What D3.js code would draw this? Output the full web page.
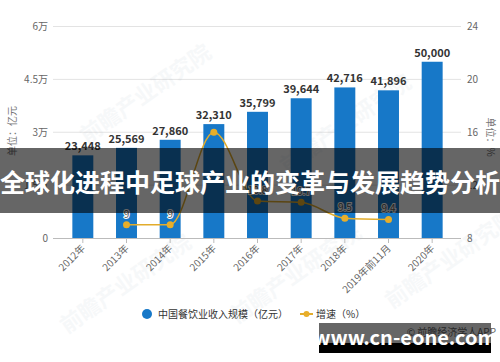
<!DOCTYPE html>
<html>
<head>
<meta charset="utf-8">
<script src="https://cdn.jsdelivr.net/npm/d3@7"></script>
<style>
  body { margin: 0; background: #fff; }
  svg { display: block; font-family: "Noto Sans CJK SC", "Noto Sans", sans-serif; }
</style>
</head>
<body>
<div id="chart"></div>
<script>
// data
const years = ["2012年", "2013年", "2014年", "2015年", "2016年", "2017年", "2018年", "2019年前11月", "2020年"];
const revenue = [23448, 25569, 27860, 32310, 35799, 39644, 42716, 41896, 50000];
const growth = [null, 9, 9, 16, 10.8, 10.7, 9.5, 9.4, null];
// the 2015 label is hidden behind the bar label in the picture
const growthLabels = [null, "9", "9", "", "10.8", "10.7", "9.5", "9.4", null];
const leftTicks = [0, 15000, 30000, 45000, 60000];
const leftTickLabels = ["0", "1.5万", "3万", "4.5万", "6万"];
const rightTicks = [8, 12, 16, 20, 24];

const width = 500, height = 362;
const plot = { left: 53, right: 461, top: 26.5, bottom: 238 };

const svg = d3.select("#chart").append("svg")
  .attr("width", width)
  .attr("height", height);

// scales
const x = d3.scaleBand()
  .domain(years)
  .range([61, 454])
  .paddingInner(0.52)
  .paddingOuter(0.26);

const yL = d3.scaleLinear().domain([0, 60000]).range([plot.bottom, plot.top]);
const yR = d3.scaleLinear().domain([8, 24]).range([plot.bottom, plot.top]);

// grid lines
svg.append("g")
  .selectAll("line")
  .data(leftTicks.slice(1))
  .enter()
  .append("line")
  .attr("x1", plot.left)
  .attr("x2", plot.right)
  .attr("y1", d => yL(d))
  .attr("y2", d => yL(d))
  .attr("stroke", "#e3e3e3")
  .attr("stroke-width", 1);

// left axis labels
svg.append("g")
  .selectAll("text")
  .data(leftTicks)
  .enter()
  .append("text")
  .attr("x", 48)
  .attr("y", d => yL(d))
  .attr("dy", "0.35em")
  .attr("text-anchor", "end")
  .attr("font-size", 10)
  .attr("fill", "#666")
  .text((d, i) => leftTickLabels[i]);

// right axis labels
svg.append("g")
  .selectAll("text")
  .data(rightTicks)
  .enter()
  .append("text")
  .attr("x", 467)
  .attr("y", d => yR(d))
  .attr("dy", "0.35em")
  .attr("text-anchor", "start")
  .attr("font-size", 10)
  .attr("fill", "#666")
  .text(d => d);

// axis titles
svg.append("text")
  .attr("transform", "translate(16,131) rotate(-90)")
  .attr("text-anchor", "middle")
  .attr("font-size", 10)
  .attr("fill", "#777")
  .text("单位：亿元");

svg.append("text")
  .attr("transform", "translate(487,137) rotate(90)")
  .attr("text-anchor", "middle")
  .attr("font-size", 10)
  .attr("fill", "#777")
  .text("单位：%");

// faint watermarks
[[150, 100], [350, 130], [300, 280], [130, 290], [455, 265]].forEach(p => {
  svg.append("text")
    .attr("transform", `translate(${p[0]},${p[1]}) rotate(-35)`)
    .attr("text-anchor", "middle")
    .attr("font-size", 22)
    .attr("font-weight", "bold")
    .attr("fill", "#7a8fa6")
    .attr("opacity", 0.06)
    .text("前瞻产业研究院");
});

// bars
svg.selectAll(".bar")
  .data(revenue)
  .enter()
  .append("rect")
  .attr("class", "bar")
  .attr("x", (d, i) => x(years[i]))
  .attr("y", d => yL(d))
  .attr("width", x.bandwidth())
  .attr("height", d => yL(0) - yL(d))
  .attr("fill", "#1778c8");

// bar labels
svg.selectAll(".barlabel")
  .data(revenue)
  .enter()
  .append("text")
  .attr("class", "barlabel")
  .attr("x", (d, i) => x(years[i]) + x.bandwidth() / 2)
  .attr("y", d => yL(d) - 5)
  .attr("text-anchor", "middle")
  .attr("font-size", 11)
  .attr("font-weight", "bold")
  .attr("fill", "#333")
  .text(d => d3.format(",")(d));

// x axis
const xAxis = svg.append("g");
xAxis.append("line")
  .attr("x1", plot.left)
  .attr("x2", plot.right)
  .attr("y1", plot.bottom + 0.5)
  .attr("y2", plot.bottom + 0.5)
  .attr("stroke", "#bbb");
xAxis.selectAll(".tick")
  .data(years)
  .enter()
  .append("line")
  .attr("x1", d => x(d) + x.bandwidth() / 2)
  .attr("x2", d => x(d) + x.bandwidth() / 2)
  .attr("y1", plot.bottom)
  .attr("y2", plot.bottom + 5)
  .attr("stroke", "#bbb");
xAxis.selectAll("text")
  .data(years)
  .enter()
  .append("text")
  .attr("transform", d => `translate(${x(d) + x.bandwidth() / 2 + 3},${plot.bottom + 11}) rotate(-45)`)
  .attr("text-anchor", "end")
  .attr("font-size", 10)
  .attr("fill", "#666")
  .text(d => d);

// growth line
const pts = growth.map((g, i) => ({ year: years[i], v: g, label: growthLabels[i] })).filter(d => d.v !== null);
const line = d3.line()
  .x(d => x(d.year) + x.bandwidth() / 2)
  .y(d => yR(d.v))
  .curve(d3.curveMonotoneX);

svg.append("path")
  .datum(pts)
  .attr("d", line)
  .attr("fill", "none")
  .attr("stroke", "#e2ac2c")
  .attr("stroke-width", 1.5);

svg.selectAll(".pt")
  .data(pts)
  .enter()
  .append("circle")
  .attr("class", "pt")
  .attr("cx", d => x(d.year) + x.bandwidth() / 2)
  .attr("cy", d => yR(d.v))
  .attr("r", 3.5)
  .attr("fill", "#e8ae2a");

svg.selectAll(".ptlabel")
  .data(pts.filter(d => d.label))
  .enter()
  .append("text")
  .attr("class", "ptlabel")
  .attr("x", d => x(d.year) + x.bandwidth() / 2)
  .attr("y", d => yR(d.v) - 7)
  .attr("text-anchor", "middle")
  .attr("font-size", 10)
  .attr("fill", "#555")
  .attr("stroke", "#fff")
  .attr("stroke-width", 2)
  .attr("paint-order", "stroke")
  .text(d => d.label);

// legend
const legend = svg.append("g").attr("font-size", 10).attr("fill", "#333");
legend.append("circle").attr("cx", 147).attr("cy", 314).attr("r", 5).attr("fill", "#1778c8");
legend.append("text").attr("x", 158).attr("y", 314).attr("dy", "0.35em").text("中国餐饮业收入规模（亿元）");
legend.append("line").attr("x1", 300).attr("x2", 313).attr("y1", 314).attr("y2", 314)
  .attr("stroke", "#e2ac2c").attr("stroke-width", 2);
legend.append("circle").attr("cx", 306.5).attr("cy", 314).attr("r", 3).attr("fill", "#e8ae2a");
legend.append("text").attr("x", 316).attr("y", 314).attr("dy", "0.35em").text("增速（%）");

// source line behind watermark
svg.append("text")
  .attr("x", 496)
  .attr("y", 332)
  .attr("dy", "0.35em")
  .attr("text-anchor", "end")
  .attr("font-size", 10)
  .attr("fill", "#666")
  .text("© 前瞻经济学人APP");

// headline banner
svg.append("rect")
  .attr("x", 0).attr("y", 148)
  .attr("width", width).attr("height", 65)
  .attr("fill", "#000").attr("opacity", 0.6);
svg.append("text")
  .attr("x", width / 2)
  .attr("y", 183)
  .attr("dy", "0.35em")
  .attr("text-anchor", "middle")
  .attr("font-size", 25)
  .attr("font-weight", "bold")
  .attr("fill", "#fff")
  .text("全球化进程中足球产业的变革与发展趋势分析");

// site watermark
svg.append("rect").attr("x", 319).attr("y", 323).attr("width", 172).attr("height", 20)
  .attr("fill", "#000").attr("opacity", 0.6);
svg.append("rect").attr("x", 319).attr("y", 343).attr("width", 172).attr("height", 10)
  .attr("fill", "#000");
svg.append("text")
  .attr("x", 405)
  .attr("y", 338)
  .attr("dy", "0.35em")
  .attr("text-anchor", "middle")
  .attr("font-size", 20)
  .attr("font-weight", "bold")
  .attr("fill", "#fff")
  .text("www.cn-eone.com");
</script>
</body>
</html>
